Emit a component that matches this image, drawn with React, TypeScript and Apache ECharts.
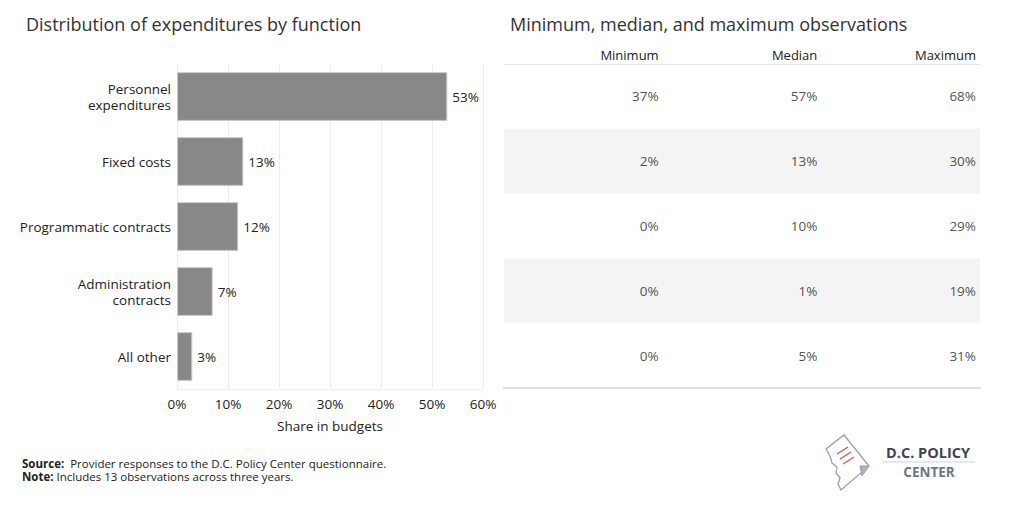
import React, { useEffect, useRef } from "react";
import * as echarts from "echarts";

const categories = [
  "Personnel\nexpenditures",
  "Fixed costs",
  "Programmatic contracts",
  "Administration\ncontracts",
  "All other",
];
const shares = [53, 13, 12, 7, 3];
const xTicks = [0, 10, 20, 30, 40, 50, 60];

const columns = ["Minimum", "Median", "Maximum"];
const minimums = [37, 2, 0, 0, 0];
const medians = [57, 13, 10, 1, 5];
const maximums = [68, 30, 29, 19, 31];

const FONT = "Open Sans";

export default function App() {
  const ref = useRef<HTMLDivElement>(null);
  useEffect(() => {
    if (!ref.current) return;
    const chart = echarts.init(ref.current, null, { renderer: "svg" });
    const rowIdx = categories.map((_, i) => i);
    const tableCols = [minimums, medians, maximums];
    const cellData: any[] = [];
    tableCols.forEach((col, c) => {
      col.forEach((v, r) => cellData.push({ value: [c + 1, r], label: { formatter: v + "%" } }));
    });
    const stripes = rowIdx.map((r) => (r % 2 === 1 ? 3 : 0));
    const footRich = { b: { fontWeight: "bold", fontFamily: FONT, fontSize: 11.5, fill: "#222" } };

    const option: any = {
      animation: false,
      textStyle: { fontFamily: FONT },
      title: [
        {
          text: "Distribution of expenditures by function",
          left: 21,
          top: 10,
          textStyle: { fontFamily: FONT, fontSize: 18, fontWeight: "normal", color: "#333" },
        },
        {
          text: "Minimum, median, and maximum observations",
          left: 505,
          top: 10,
          textStyle: { fontFamily: FONT, fontSize: 18, fontWeight: "normal", color: "#333" },
        },
      ],
      grid: [
        { left: 177, right: 541, top: 64, height: 325, containLabel: false },
        { left: 504, right: 44, top: 64, height: 324, containLabel: false },
      ],
      xAxis: [
        {
          gridIndex: 0,
          type: "value",
          min: 0,
          max: 60,
          interval: 10,
          axisLine: { show: true, lineStyle: { color: "#eeeeee" } },
          axisTick: { show: false },
          splitLine: { show: true, lineStyle: { color: "#ececec" } },
          axisLabel: {
            formatter: (v: number) => (xTicks.includes(v) ? v + "%" : ""),
            color: "#222",
            fontSize: 13.5,
            fontFamily: FONT,
            margin: 8,
          },
          name: "Share in budgets",
          nameLocation: "middle",
          nameGap: 30,
          nameTextStyle: { color: "#222", fontSize: 13.5, fontFamily: FONT },
        },
        {
          gridIndex: 1,
          type: "value",
          position: "top",
          min: 0,
          max: 3,
          interval: 1,
          axisLine: { show: true, lineStyle: { color: "#e6e6e6", width: 1 } },
          axisTick: { show: false },
          splitLine: { show: false },
          axisLabel: {
            formatter: (v: number) => (v >= 1 ? columns[v - 1] : ""),
            align: "right",
            padding: [0, 4, 0, 0],
            color: "#222",
            fontSize: 13,
            fontFamily: FONT,
            margin: 3,
          },
        },
        {
          gridIndex: 1,
          type: "value",
          position: "bottom",
          min: 0,
          max: 3,
          axisLine: { show: true, lineStyle: { color: "#dddddd", width: 2 } },
          axisTick: { show: false },
          splitLine: { show: false },
          axisLabel: { show: false },
        },
      ],
      yAxis: [
        {
          gridIndex: 0,
          type: "category",
          data: categories,
          inverse: true,
          axisLine: { show: false },
          axisTick: { show: false },
          axisLabel: {
            color: "#222",
            fontSize: 13.5,
            fontFamily: FONT,
            margin: 6,
            lineHeight: 16,
            align: "right",
          },
        },
        {
          gridIndex: 1,
          type: "category",
          data: rowIdx.map(String),
          inverse: true,
          axisLine: { show: false },
          axisTick: { show: false },
          axisLabel: { show: false },
        },
      ],
      series: [
        {
          type: "bar",
          xAxisIndex: 0,
          yAxisIndex: 0,
          data: shares,
          barCategoryGap: "25%",
          itemStyle: { color: "#888888", borderColor: "#c8c8c8", borderWidth: 1 },
          label: {
            show: true,
            position: "right",
            distance: 5,
            formatter: (p: any) => p.value + "%",
            color: "#222",
            fontSize: 13.5,
            fontFamily: FONT,
          },
        },
        {
          type: "bar",
          xAxisIndex: 2,
          yAxisIndex: 1,
          data: stripes,
          barWidth: "100%",
          itemStyle: { color: "#f4f4f4" },
          silent: true,
        },
        {
          type: "scatter",
          xAxisIndex: 2,
          yAxisIndex: 1,
          data: cellData,
          symbolSize: 0,
          label: {
            show: true,
            position: "left",
            distance: 4,
            color: "#222",
            fontSize: 13.5,
            fontFamily: FONT,
          },
        },
      ],
      graphic: [
        {
          type: "text",
          x: 22,
          y: 463,
          style: {
            text: "{b|Source:}  Provider responses to the D.C. Policy Center questionnaire.",
            fontFamily: FONT,
            fontSize: 11.5,
            fill: "#222",
            verticalAlign: "middle",
            rich: footRich,
          },
        },
        {
          type: "text",
          x: 22,
          y: 476.5,
          style: {
            text: "{b|Note:} Includes 13 observations across three years.",
            fontFamily: FONT,
            fontSize: 11.5,
            fill: "#222",
            verticalAlign: "middle",
            rich: footRich,
          },
        },
        {
          type: "polygon",
          shape: {
            points: [
              [844, 435], [869, 466], [841, 490], [838, 484], [840, 478], [836, 473],
              [837, 467], [832, 463], [830, 456], [826, 449],
            ],
          },
          style: { fill: "#ffffff", stroke: "#9aa1a9", lineWidth: 1.3 },
        },
        {
          type: "polygon",
          shape: { points: [[860, 466], [869, 466], [862, 476]] },
          style: { fill: "#aab4c0", stroke: "#9aa1a9", lineWidth: 1 },
        },
        { type: "line", shape: { x1: 837, y1: 454, x2: 848, y2: 447 }, style: { stroke: "#e05050", lineWidth: 1.3 } },
        { type: "line", shape: { x1: 840, y1: 459, x2: 851, y2: 452 }, style: { stroke: "#e05050", lineWidth: 1.3 } },
        { type: "line", shape: { x1: 843, y1: 464, x2: 854, y2: 457 }, style: { stroke: "#e05050", lineWidth: 1.3 } },
        {
          type: "text",
          x: 928,
          y: 452,
          style: {
            text: "D.C. POLICY",
            fontFamily: FONT,
            fontSize: 14.5,
            fontWeight: "bold",
            fill: "#3d4650",
            align: "center",
            verticalAlign: "middle",
          },
        },
        { type: "line", shape: { x1: 883, y1: 462, x2: 975, y2: 462 }, style: { stroke: "#c9d5e3", lineWidth: 1.2 } },
        {
          type: "text",
          x: 929,
          y: 472,
          style: {
            text: "CENTER",
            fontFamily: FONT,
            fontSize: 13.5,
            fontWeight: "bold",
            fill: "#6e7782",
            align: "center",
            verticalAlign: "middle",
          },
        },
      ],
    };
    chart.setOption(option);
    return () => chart.dispose();
  }, []);
  return (
    <div
      ref={ref}
      style={{ position: "fixed", left: 0, top: 0, width: 1024, height: 508, background: "#fff" }}
    />
  );
}
